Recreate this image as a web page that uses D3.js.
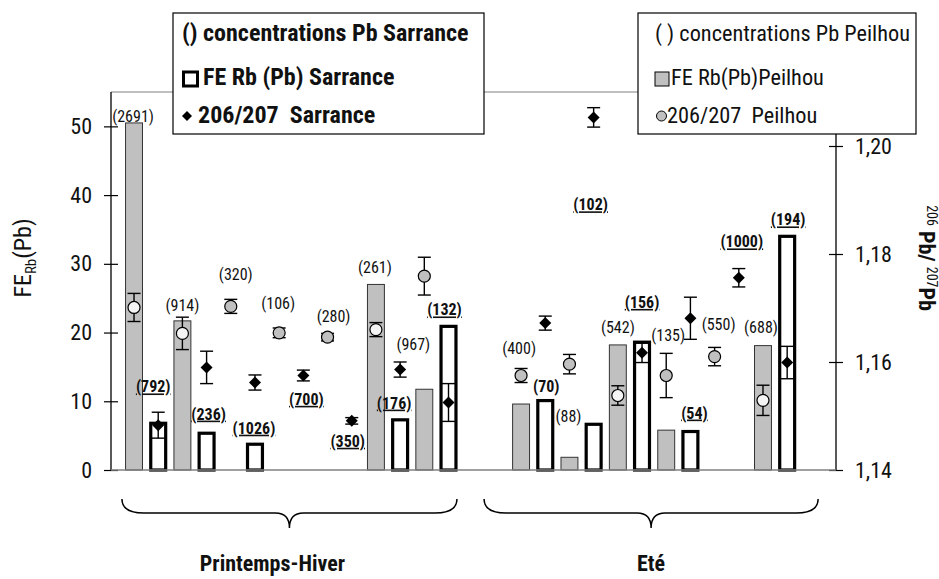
<!DOCTYPE html>
<html><head><meta charset="utf-8">
<script src="https://cdn.jsdelivr.net/npm/d3@7"></script>
<style>
body{margin:0;background:#fff}
svg{display:block}
text{font-family:'Liberation Sans Narrow','Arial Narrow','Roboto Condensed',sans-serif;fill:#111}
</style></head><body>
<svg id="chart" width="939" height="579"></svg>
<script>
// ---------- DATA ----------
const samples = ["PH1","PH2","PH3","PH4","PH5","PH6","PH7","gap","E1","E2","E3","E4","E5","E6"];
const seasons = ["Printemps-Hiver","Eté"];
const feRbPeilhou  = [50.5,21.7,null,null,null,27.0,11.75,null,9.6,1.85,18.2,5.8,null,18.1];
const feRbSarrance = [6.8,5.35,3.75,null,null,7.3,20.9,null,10.1,6.65,18.6,5.6,null,34.0];
const ratioPeilhou = [1.1701,1.1653,1.1703,1.1654,1.1646,1.1660,1.1759,null,1.1575,1.1596,1.1538,1.1575,1.1610,1.1529];
const errPeilhou   = [0.0026,0.0030,0.0013,0.0009,0.0007,0.0013,0.0035,null,0.0013,0.0018,0.0018,0.0041,0.0017,0.0028];
const ratioSarrance= [1.1483,1.1590,1.1562,1.1575,1.1491,1.1586,1.1525,null,1.1672,1.2053,1.1617,1.1681,1.1756,1.1599];
const errSarrance  = [0.0024,0.0030,0.0014,0.0010,0.0006,0.0014,0.0035,null,0.0013,0.0018,0.0018,0.0039,0.0017,0.0030];
const pbPeilhou  = [2691,914,320,106,280,261,967,null,400,88,542,135,550,688];
const pbSarrance = [792,236,1026,700,350,176,132,null,70,102,156,54,1000,194];
const leftTicks  = [0,10,20,30,40,50];
const rightTicks = [1.14,1.16,1.18,1.20];
// annotation anchors of the concentration labels, in FE units
const pbPeilhouLabelAt  = [51.4,24.0,28.4,24.3,22.3,29.5,18.3,null,17.75,7.86,20.8,19.6,21.2,20.8];
const pbSarranceLabelAt = [12.1,8.15,6.1,10.3,4.2,9.75,23.3,null,12.2,38.6,24.4,8.3,33.2,36.4];

// ---------- LAYOUT ----------
const layout = {
  plotL:111, plotR:836, plotT:92, plotB:470,
  peilhouDx:[-1,0,5,-1,6,-1,-11,0,-2,-1,0,2,4,-2],
  sarranceDx:[-5,2,-1,3,-4,-6,-4,0,1,-3,0,4,3,1],
  braceSlots:[[-0.5,13.35],[14.47,28.28]],
  seasonDx:[-17,0]
};

const svg = d3.select("#chart");
const nSlots = samples.length*2;
const x = d3.scaleBand().domain(d3.range(nSlots))
  .range([layout.plotL, layout.plotR]).paddingInner(0.3).paddingOuter(1.135).align(0.265);
const step = x.step(), bw = x.bandwidth();
const cx = s => x(0) + bw/2 + s*step;
const yL = d3.scaleLinear().domain([0,55]).range([layout.plotB, layout.plotT]);
const yR = d3.scaleLinear().domain([1.14,1.21]).range([layout.plotB, layout.plotT]);

// frame
svg.append("line").attr("x1",layout.plotL).attr("x2",layout.plotR).attr("y1",layout.plotT).attr("y2",layout.plotT)
  .attr("stroke","#808080").attr("stroke-width",1.2);

// axes
const axL = svg.append("g").attr("transform",`translate(${layout.plotL},0)`)
  .call(d3.axisLeft(yL).tickValues(leftTicks).tickSize(7).tickPadding(12).tickFormat(d3.format("d")));
const axR = svg.append("g").attr("transform",`translate(${layout.plotR},0)`)
  .call(d3.axisRight(yR).tickValues(rightTicks).tickSize(7).tickPadding(12).tickFormat(d=>d.toFixed(2).replace(".",",")));
[axL,axR].forEach(a=>{
  a.select(".domain").remove();
  a.selectAll(".tick line").attr("x1",-7).attr("x2",7).attr("stroke","#000").attr("stroke-width",1.2);
  a.selectAll(".tick text").attr("font-size",22).attr("font-family","'Liberation Sans Narrow','Arial Narrow','Roboto Condensed',sans-serif").attr("fill","#111");
});
svg.append("line").attr("x1",layout.plotL).attr("x2",layout.plotL).attr("y1",layout.plotT).attr("y2",layout.plotB).attr("stroke","#000").attr("stroke-width",1.3);
svg.append("line").attr("x1",layout.plotR).attr("x2",layout.plotR).attr("y1",layout.plotT).attr("y2",layout.plotB).attr("stroke","#000").attr("stroke-width",1.3);

// axis titles
const tL = svg.append("text").attr("transform","translate(31,258) rotate(-90)").attr("text-anchor","middle").attr("font-size",24);
tL.append("tspan").text("FE");
tL.append("tspan").attr("font-size",15).attr("dy",5).text("Rb");
tL.append("tspan").attr("dy",-5).text("(Pb)");
const tR = svg.append("text").attr("transform","translate(919,258) rotate(90)").attr("text-anchor","middle").attr("font-size",22).attr("font-weight","bold");
tR.append("tspan").attr("font-size",14).attr("font-weight","normal").attr("dy",-8).text("206");
tR.append("tspan").attr("dy",8).text(" Pb/ ");
tR.append("tspan").attr("font-size",14).attr("font-weight","normal").attr("dy",-8).text("207");
tR.append("tspan").attr("dy",8).text("Pb");

// data rows
const rows = samples.map((s,i)=>({i,
  feP:feRbPeilhou[i], feS:feRbSarrance[i], rP:ratioPeilhou[i], eP:errPeilhou[i],
  rS:ratioSarrance[i], eS:errSarrance[i], pbP:pbPeilhou[i], pbS:pbSarrance[i],
  lP:pbPeilhouLabelAt[i], lS:pbSarranceLabelAt[i]}));

// Peilhou bars
svg.append("g").selectAll("rect").data(rows.filter(d=>d.feP!=null)).join("rect")
  .attr("x",d=>x(2*d.i)).attr("width",bw).attr("y",d=>yL(d.feP)).attr("height",d=>yL(0)-yL(d.feP))
  .attr("fill","#c0c0c0").attr("stroke","#333").attr("stroke-width",1);
// Sarrance bars
svg.append("g").selectAll("rect").data(rows.filter(d=>d.feS!=null)).join("rect")
  .attr("x",d=>x(2*d.i+1)+1).attr("width",bw-2).attr("y",d=>yL(d.feS)).attr("height",d=>yL(0)-yL(d.feS))
  .attr("fill","#fff").attr("stroke","#000").attr("stroke-width",3.2);

// baseline
svg.append("line").attr("x1",layout.plotL).attr("x2",layout.plotR).attr("y1",layout.plotB).attr("y2",layout.plotB)
  .attr("stroke","#808080").attr("stroke-width",1.5);

// error bars
function errBars(data, slot, val, err){
  const g = svg.append("g").attr("stroke","#000").attr("stroke-width",1.4);
  data.forEach(d=>{
    const xc = cx(slot(d)), y1 = yR(val(d)+err(d)), y2 = yR(val(d)-err(d));
    g.append("line").attr("x1",xc).attr("x2",xc).attr("y1",y1).attr("y2",y2);
    g.append("line").attr("x1",xc-6.5).attr("x2",xc+6.5).attr("y1",y1).attr("y2",y1);
    g.append("line").attr("x1",xc-6.5).attr("x2",xc+6.5).attr("y1",y2).attr("y2",y2);
  });
}
const pRows = rows.filter(d=>d.rP!=null), sRows = rows.filter(d=>d.rS!=null);
errBars(pRows, d=>2*d.i, d=>d.rP, d=>d.eP);
errBars(sRows, d=>2*d.i+1, d=>d.rS, d=>d.eS);

svg.append("g").selectAll("circle").data(pRows).join("circle")
  .attr("cx",d=>cx(2*d.i)).attr("cy",d=>yR(d.rP)).attr("r",6)
  .attr("fill",d=>(d.feP!=null && yR(d.rP)>yL(d.feP))?"#f4f4f4":"#c0c0c0")
  .attr("stroke","#000").attr("stroke-width",1.2);
const diamond = d3.symbol(d3.symbolSquare,72);
svg.append("g").selectAll("path").data(sRows).join("path")
  .attr("d",diamond).attr("transform",d=>`translate(${cx(2*d.i+1)},${yR(d.rS)}) rotate(45)`)
  .attr("fill","#000");

// concentration labels
svg.append("g").selectAll("text").data(rows.filter(d=>d.pbP!=null)).join("text")
  .attr("x",d=>cx(2*d.i)+layout.peilhouDx[d.i]).attr("y",d=>yL(d.lP)).attr("dy","0.35em")
  .attr("text-anchor","middle").attr("font-size",16).attr("fill","#222")
  .text(d=>`(${d.pbP})`);
svg.append("g").selectAll("text").data(rows.filter(d=>d.pbS!=null)).join("text")
  .attr("x",d=>cx(2*d.i+1)+layout.sarranceDx[d.i]).attr("y",d=>yL(d.lS)).attr("dy","0.35em")
  .attr("text-anchor","middle").attr("font-size",16).attr("font-weight","bold").attr("fill","#111")
  .attr("text-decoration",d=>d.pbS===70?"none":"underline")
  .text(d=>`(${d.pbS})`);

// season braces
seasons.forEach((s,k)=>{
  const [a,b] = layout.braceSlots[k];
  const x0 = cx(a), x1 = cx(b), xm = (x0+x1)/2;
  const yt = 499, yh = 513, ytip = 528;
  const p = d3.path();
  p.moveTo(x0,yt); p.quadraticCurveTo(x0,yh,x0+22,yh); p.lineTo(xm-14,yh);
  p.quadraticCurveTo(xm,yh,xm,ytip); p.quadraticCurveTo(xm,yh,xm+14,yh);
  p.lineTo(x1-22,yh); p.quadraticCurveTo(x1,yh,x1,yt);
  svg.append("path").attr("d",p.toString()).attr("fill","none").attr("stroke","#000").attr("stroke-width",1.5);
  svg.append("text").attr("x",xm+layout.seasonDx[k]).attr("y",571).attr("text-anchor","middle")
    .attr("font-size",22).attr("font-weight","bold").text(s);
});

// legends
function legend(x0,y0,w,h,items,bold,fs){
  const g = svg.append("g");
  g.append("rect").attr("x",x0).attr("y",y0).attr("width",w).attr("height",h).attr("fill","#fff").attr("stroke","#000").attr("stroke-width",1.2);
  items.forEach(it=>{
    if(it.sym==="sq") g.append("rect").attr("x",it.sx).attr("y",it.y-13).attr("width",14).attr("height",14)
        .attr("fill",it.fill).attr("stroke","#000").attr("stroke-width",it.sw);
    if(it.sym==="di") g.append("path").attr("d",d3.symbol(d3.symbolSquare,50)).attr("transform",`translate(${it.sx},${it.y-7}) rotate(45)`).attr("fill","#000");
    if(it.sym==="ci") g.append("circle").attr("cx",it.sx).attr("cy",it.y-7).attr("r",5).attr("fill","#c0c0c0").attr("stroke","#000");
    g.append("text").attr("x",it.tx).attr("y",it.y).attr("font-size",fs).attr("font-weight",bold?"bold":"normal").text(it.t);
  });
}
legend(173,13,311,121,[
  {t:"() concentrations Pb Sarrance",tx:182,y:41},
  {t:"FE Rb (Pb) Sarrance",tx:203,y:85,sym:"sq",sx:183.5,fill:"#fff",sw:3},
  {t:"206/207\u00a0\u00a0Sarrance",tx:198,y:123,sym:"di",sx:187}
],true,24);
legend(638,13,278,121,[
  {t:"( ) concentrations Pb Peilhou",tx:655,y:41},
  {t:"FE Rb(Pb)Peilhou",tx:671,y:85,sym:"sq",sx:655,fill:"#c0c0c0",sw:1},
  {t:"206/207\u00a0\u00a0Peilhou",tx:667,y:123,sym:"ci",sx:661.5}
],false,22.3);
</script>
</body></html>
